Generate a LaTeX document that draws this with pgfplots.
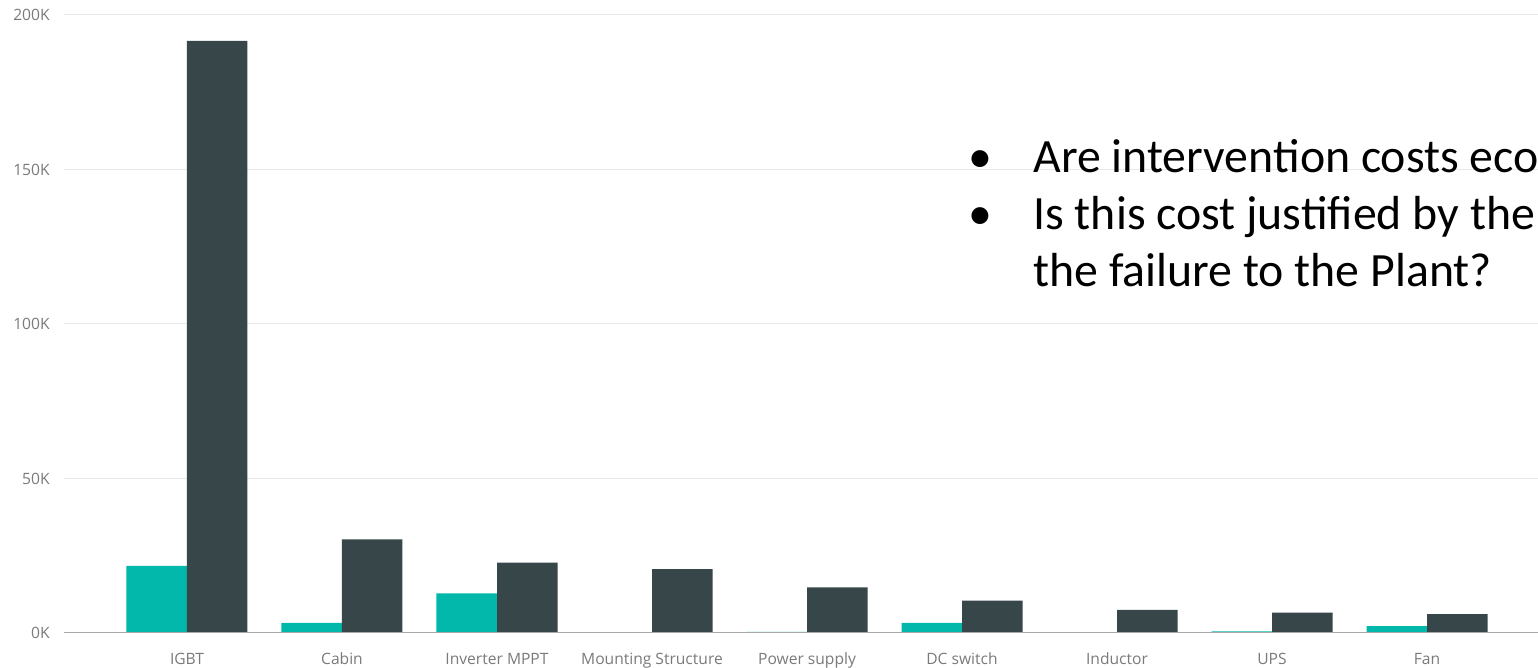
\documentclass[border=0pt]{standalone}
\usepackage{fontspec}
\setmainfont{Open Sans}
\newfontfamily\calibri{Carlito}
\usepackage{pgfplots}
\usepackage{pgfplotstable}
\pgfplotsset{compat=1.18}

\definecolor{pbiTeal}{HTML}{01B8AA}
\definecolor{pbiDark}{HTML}{374649}
\definecolor{gridgray}{HTML}{E8E8E8}
\definecolor{basegray}{HTML}{A8A8A8}
\definecolor{labelgray}{HTML}{7A7A7A}

% intervention cost (a) and failure cost (b) per component
\pgfplotstableread{
x a b
0 21700 191600
1 3300 30300
2 12800 22800
3 0 20700
4 400 14800
5 3300 10500
6 0 7500
7 500 6600
8 2200 6100
}\costs

\begin{document}
\begin{tikzpicture}
\useasboundingbox (0,0) rectangle (769pt,334pt);
\clip (0,0) rectangle (769pt,334pt);
\begin{axis}[
  at={(32pt,17.5pt)}, anchor=south west,
  scale only axis, width=737pt, height=309pt,
  ybar=0pt, bar width=30.25pt,
  xmin=-0.7935, xmax=8.716, ymin=0, ymax=200000,
  xtick={0,...,8},
  xticklabels={IGBT,Cabin,Inverter MPPT,Mounting Structure,Power supply,DC switch,Inductor,UPS,Fan},
  ytick={0,50000,100000,150000,200000},
  yticklabels={0K,50K,100K,150K,200K},
  scaled y ticks=false,
  ymajorgrids, grid style={gridgray, line width=0.5pt},
  axis line style={draw=none},
  major tick length=0pt,
  tick style={draw=none},
  ticklabel style={font=\fontsize{7.8pt}{9pt}\selectfont, text=labelgray},
  xticklabel style={anchor=base, inner sep=0pt, yshift=-16pt},
  yticklabel style={anchor=east, inner sep=0pt, xshift=-7pt},
]
\addplot[fill=pbiTeal, draw=none] table[x=x,y=a]{\costs};
\addplot[fill=pbiDark, draw=none] table[x=x,y=b]{\costs};
\draw[basegray, line width=0.7pt] (rel axis cs:0,0) -- (rel axis cs:1,0);
\end{axis}

% questions beside the chart
\begin{scope}[every node/.style={inner sep=0pt, font=\calibri\fontsize{23.9pt}{28.5pt}\selectfont}]
\node[anchor=base] at (490pt,247.5pt) {•};
\node[anchor=base] at (490pt,219pt) {•};
\node[anchor=base west] at (516.5pt,247.5pt) {Are intervention costs eco};
\node[anchor=base west] at (516.5pt,219pt) {Is this cost justified by the};
\node[anchor=base west] at (516.5pt,190.5pt) {the failure to the Plant?};
\end{scope}
\end{tikzpicture}
\end{document}
